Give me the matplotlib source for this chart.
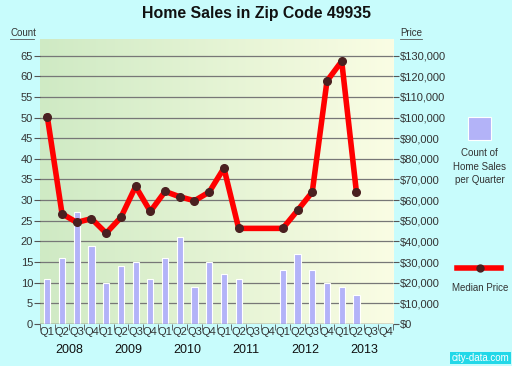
import matplotlib.pyplot as plt
import numpy as np
from matplotlib.colors import LinearSegmentedColormap

plt.rcParams['font.family'] = ['Liberation Sans', 'DejaVu Sans']

quarters = ["Q1", "Q2", "Q3", "Q4"] * 6
years = ["2008", "2009", "2010", "2011", "2012", "2013"]
counts = [11, 16, 27, 19, 10, 14, 15, 11, 16, 21, 9, 15, 12, 11, 0, 0,
          13, 17, 13, 10, 9, 7, 0, 0]
prices = [100500, 53400, 49200, 51000, 44000, 51600, 66600, 54500,
          64200, 61600, 59700, 63900, 75500, 46300, np.nan, np.nan,
          46300, 55000, 63900, 117700, 127300, 63900, np.nan, np.nan]

bg = "#c8fcfc"
fig = plt.figure(figsize=(5.12, 3.66), dpi=100, facecolor=bg)
ax = fig.add_axes([0.078, 0.115, 0.690, 0.778])
ax.set_facecolor(bg)

x = np.arange(len(counts))
ax.set_xlim(-0.5, len(counts) - 0.5)
ax.set_ylim(0, 69)

# gradient background
cmap = LinearSegmentedColormap.from_list("bg", ["#cfeac4", "#fafde4"])
grad = np.linspace(0, 1, 256).reshape(1, -1)
ax.imshow(grad, cmap=cmap, aspect="auto", extent=[-0.5, len(counts) - 0.5, 0, 69],
          zorder=0)

for v in range(0, 70, 5):
    ax.axhline(v, color="#777777", lw=0.9, zorder=1)

ax.bar(x, counts, width=0.42, color="#b3b3f8", edgecolor="white", lw=0.8, zorder=2)

p = np.array(prices)
ok = ~np.isnan(p)
ax.plot(x[ok], p[ok] / 2000, color="#ff0000", lw=4, zorder=3, solid_joinstyle="round")
ax.plot(x[ok], p[ok] / 2000, "o", color="#4a2020", ms=5.5, zorder=4)

for s in ax.spines.values():
    s.set_visible(False)

ax.set_yticks(range(0, 70, 5))
ax.tick_params(axis="y", length=4, color="#555555", labelsize=8, labelcolor="#333333", pad=1)
ax.set_xticks(x)
ax.set_xticklabels(quarters)
ax.tick_params(axis="x", length=0, labelsize=8, labelcolor="#333333", pad=2)
ax.set_xticks(np.arange(-0.5, len(counts), 1), minor=True)
ax.tick_params(axis="x", which="minor", length=4, color="#555555")
ax.axhline(0, color="#555555", lw=0.9, zorder=5)

for i, yr in enumerate(years):
    ax.text(4 * i + 1.5, -0.07, yr, transform=ax.get_xaxis_transform(),
            ha="center", va="top", fontsize=9, color="#111111")

ax2 = ax.twinx()
ax2.set_ylim(0, 69 * 2000)
ax2.set_yticks(range(0, 130001, 10000))
ax2.set_yticklabels(["$0"] + ["${:,}".format(v) for v in range(10000, 130001, 10000)])
ax2.tick_params(axis="y", length=4, color="#555555", labelsize=8, labelcolor="#333333", pad=1)
for s in ax2.spines.values():
    s.set_visible(False)

fig.text(0.5, 0.962, "Home Sales in Zip Code 49935", ha="center", va="center",
         fontsize=11.4, fontweight="bold", color="#111111")
fig.text(0.02, 0.91, "Count", fontsize=7, color="#333333", va="center")
fig.text(0.781, 0.91, "Price", fontsize=7, color="#333333", va="center")
# underlines of the axis captions
fig.lines.append(plt.Line2D([0.02, 0.066], [0.893, 0.893], transform=fig.transFigure,
                            color="#555555", lw=0.6))
fig.lines.append(plt.Line2D([0.781, 0.824], [0.893, 0.893], transform=fig.transFigure,
                            color="#555555", lw=0.6))

# legend
lx = 0.937
fig.patches.append(plt.Rectangle((lx - 0.0225, 0.617), 0.045, 0.063, transform=fig.transFigure,
                                 facecolor="#b3b3f8", edgecolor="white", lw=0.8))
fig.text(lx, 0.544, "Count of\nHome Sales\nper Quarter", ha="center", va="center",
         fontsize=7, color="#333333", linespacing=1.45)
fig.lines.append(plt.Line2D([0.892, 0.979], [0.268, 0.268], transform=fig.transFigure,
                            color="#ff0000", lw=4))
fig.lines.append(plt.Line2D([lx], [0.268], transform=fig.transFigure, marker="o",
                            color="#4a2020", ms=5))
fig.text(lx, 0.214, "Median Price", ha="center", va="center", fontsize=7, color="#333333")

fig.text(0.995, 0.008, "city-data.com", ha="right", va="bottom", fontsize=7,
         color="white", bbox=dict(facecolor="#22d8e8", edgecolor="none", pad=1))

fig.savefig("out.png", dpi=100, facecolor=bg)
